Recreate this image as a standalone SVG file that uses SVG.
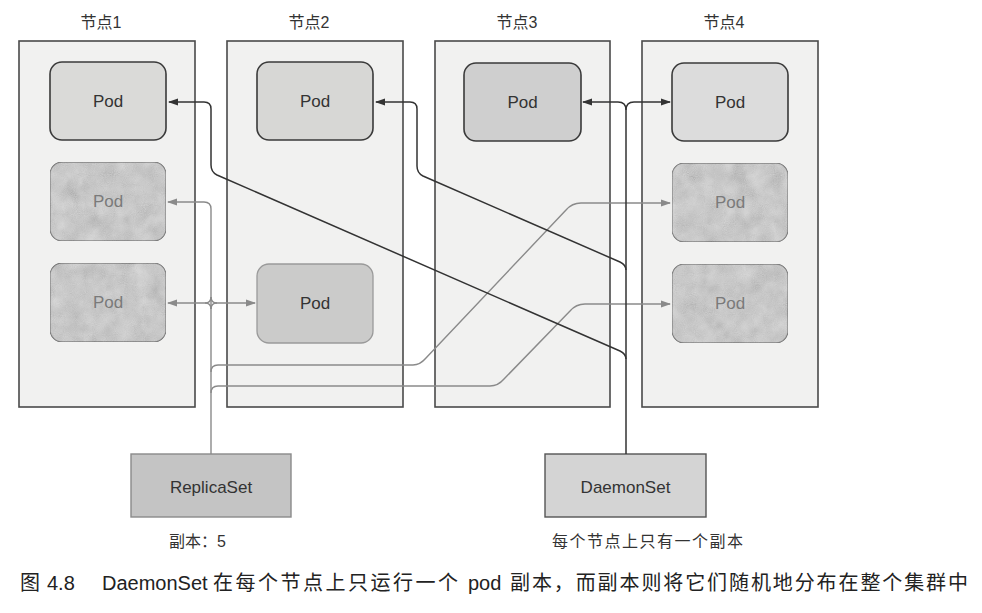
<svg xmlns="http://www.w3.org/2000/svg" width="982" height="613" viewBox="0 0 982 613">
  <style>
    text { font-family: "Liberation Sans", "Noto Sans CJK SC", sans-serif; fill: #333; }
    .node-box { fill: #f1f1f0; stroke: #4a4a4a; stroke-width: 1.6; }
    .node-title { font-size: 16px; text-anchor: middle; }
    .pod-label { font-size: 17px; text-anchor: middle; }
    .pod-ds { stroke: #3a3a3a; stroke-width: 1.6; }
    .pod-rs { fill: #d6d6d6; stroke: #8c8c8c; stroke-width: 1.3; filter: url(#grain); }
    .pod-rs-label { fill: #7a7a7a; }
    .set-label { font-size: 17px; text-anchor: middle; }
    .note { font-size: 16px; }
    .ds-line { fill: none; stroke: #333; stroke-width: 1.5; }
    .rs-line { fill: none; stroke: #8a8a8a; stroke-width: 1.4; }
    .caption { font-size: 20px; fill: #222; }
  </style>
  <defs>
    <!-- mottled print texture used on the replica pods -->
    <filter id="grain" x="0" y="0" width="100%" height="100%">
      <feTurbulence type="fractalNoise" baseFrequency="0.06" numOctaves="3" seed="7" result="blotch"/>
      <feTurbulence type="fractalNoise" baseFrequency="0.9" numOctaves="1" seed="2" result="speck"/>
      <feComposite in="blotch" in2="speck" operator="arithmetic" k1="0" k2="0.75" k3="0.35" k4="-0.05" result="noise"/>
      <feColorMatrix in="noise" type="matrix" values="0.33 0.33 0.33 0 0  0.33 0.33 0.33 0 0  0.33 0.33 0.33 0 0  0 0 0 0 1" result="gray"/>
      <feComponentTransfer in="gray" result="shade">
        <feFuncR type="linear" slope="0.8" intercept="0.5"/>
        <feFuncG type="linear" slope="0.8" intercept="0.5"/>
        <feFuncB type="linear" slope="0.8" intercept="0.5"/>
      </feComponentTransfer>
      <feBlend in="SourceGraphic" in2="shade" mode="multiply" result="tex"/>
      <feComposite in="tex" in2="SourceGraphic" operator="in"/>
    </filter>
    <marker id="arrow-dark" viewBox="0 0 10 8" markerWidth="10" markerHeight="8" refX="9" refY="4" orient="auto" markerUnits="userSpaceOnUse">
      <path d="M0,0.5 L10,4 L0,7.5 z" fill="#333"/>
    </marker>
    <marker id="arrow-gray" viewBox="0 0 10 8" markerWidth="10" markerHeight="8" refX="9" refY="4" orient="auto" markerUnits="userSpaceOnUse">
      <path d="M0,0.5 L10,4 L0,7.5 z" fill="#8a8a8a"/>
    </marker>
  </defs>

  <rect width="982" height="613" fill="#ffffff"/>

  <!-- cluster nodes -->
  <g id="node1">
    <text class="node-title" x="101" y="28">节点1</text>
    <rect class="node-box" x="19" y="41" width="176" height="366"/>
    <g id="node1-pod-a">
      <rect class="pod-ds" x="50" y="62" width="116" height="78" rx="12" fill="#dadad8"/>
      <text class="pod-label" x="108" y="107">Pod</text>
    </g>
    <g id="node1-pod-b">
      <rect class="pod-rs" x="50" y="162" width="116" height="79" rx="12"/>
      <text class="pod-label pod-rs-label" x="108" y="207">Pod</text>
    </g>
    <g id="node1-pod-c">
      <rect class="pod-rs" x="50" y="263" width="116" height="79" rx="12"/>
      <text class="pod-label pod-rs-label" x="108" y="308">Pod</text>
    </g>
  </g>

  <g id="node2">
    <text class="node-title" x="309" y="28">节点2</text>
    <rect class="node-box" x="227" y="41" width="176" height="366"/>
    <g id="node2-pod-a">
      <rect class="pod-ds" x="257" y="62" width="116" height="78" rx="12" fill="#d7d7d5"/>
      <text class="pod-label" x="315" y="107">Pod</text>
    </g>
    <g id="node2-pod-b">
      <rect x="257" y="264" width="116" height="79" rx="12" fill="#cbcbca" stroke="#9a9a9a" stroke-width="1.3"/>
      <text class="pod-label" x="315" y="309">Pod</text>
    </g>
  </g>

  <g id="node3">
    <text class="node-title" x="517" y="28">节点3</text>
    <rect class="node-box" x="435" y="41" width="175" height="366"/>
    <g id="node3-pod-a">
      <rect class="pod-ds" x="464" y="63" width="117" height="78" rx="12" fill="#cfcfcf"/>
      <text class="pod-label" x="522.5" y="108">Pod</text>
    </g>
  </g>

  <g id="node4">
    <text class="node-title" x="724" y="28">节点4</text>
    <rect class="node-box" x="642" y="41" width="176" height="366"/>
    <g id="node4-pod-a">
      <rect class="pod-ds" x="672" y="63" width="116" height="78" rx="12" fill="#dcdcdc"/>
      <text class="pod-label" x="730" y="108">Pod</text>
    </g>
    <g id="node4-pod-b">
      <rect class="pod-rs" x="672" y="163" width="116" height="79" rx="12"/>
      <text class="pod-label pod-rs-label" x="730" y="208">Pod</text>
    </g>
    <g id="node4-pod-c">
      <rect class="pod-rs" x="672" y="264" width="116" height="79" rx="12"/>
      <text class="pod-label pod-rs-label" x="730" y="309">Pod</text>
    </g>
  </g>

  <!-- controllers -->
  <g id="replicaset">
    <rect x="131" y="454" width="160" height="63" fill="#c4c4c4" stroke="#8a8a8a" stroke-width="1.4"/>
    <text class="set-label" x="211" y="493">ReplicaSet</text>
    <text class="note" x="169" y="547">副本：5</text>
  </g>

  <g id="daemonset">
    <rect x="545" y="454" width="161" height="63" fill="#d4d4d4" stroke="#555" stroke-width="1.4"/>
    <text class="set-label" x="625.5" y="493">DaemonSet</text>
    <text class="note" x="552" y="547" textLength="191" lengthAdjust="spacing">每个节点上只有一个副本</text>
  </g>

  <!-- connectors -->
  <g id="connectors">
    <!-- ReplicaSet: one pod per branch, placed anywhere -->
    <path class="rs-line" d="M211,454 V209 Q211,202 204,202 H168" marker-end="url(#arrow-gray)"/>
    <path class="rs-line" d="M211,297 Q211,303 205,303 H168" marker-end="url(#arrow-gray)"/>
    <path class="rs-line" d="M211,309 Q211,303 205,303"/>
    <path class="rs-line" d="M211,297 Q211,303 217,303 H255" marker-end="url(#arrow-gray)"/>
    <path class="rs-line" d="M211,309 Q211,303 217,303"/>
    <path class="rs-line" d="M211,372 Q211,365 218,365 H413 Q420,365 426,358 L566,210 Q572,203 581,203 H670" marker-end="url(#arrow-gray)"/>
    <path class="rs-line" d="M211,393 Q211,386 218,386 H490 Q498,386 504,379 L570,311 Q576,304 585,304 H670" marker-end="url(#arrow-gray)"/>

    <!-- DaemonSet: exactly one pod on every node -->
    <path class="ds-line" d="M626,454 V110 Q626,102 618,102 H583" marker-end="url(#arrow-dark)"/>
    <path class="ds-line" d="M626,110 Q626,102 634,102 H670" marker-end="url(#arrow-dark)"/>
    <path class="ds-line" d="M626,270 Q626,265 620,262 L423,176 Q417,173 417,166 V109 Q417,102 410,102 H376" marker-end="url(#arrow-dark)"/>
    <path class="ds-line" d="M626,359 Q626,354 620,351 L217,175 Q211,172 211,165 V109 Q211,102 204,102 H169" marker-end="url(#arrow-dark)"/>
  </g>

  <!-- figure caption -->
  <g id="caption">
    <text class="caption" x="20" y="590">图</text>
    <text class="caption" x="47" y="590" font-size="21">4.8</text>
    <text class="caption" x="102" y="590" font-size="20.5">DaemonSet</text>
    <text class="caption" x="213" y="590" textLength="245" lengthAdjust="spacing">在每个节点上只运行一个</text>
    <text class="caption" x="468" y="590" font-size="20.5">pod</text>
    <text class="caption" x="510" y="590" textLength="458" lengthAdjust="spacing">副本，而副本则将它们随机地分布在整个集群中</text>
  </g>
</svg>
